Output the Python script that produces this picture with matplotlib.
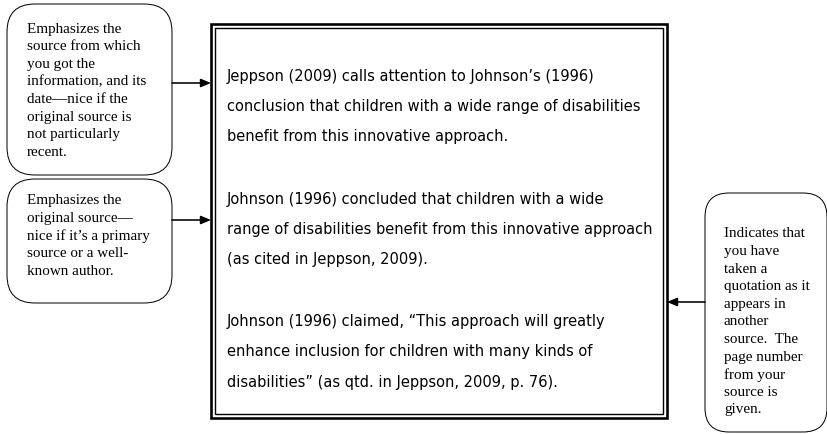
import matplotlib
matplotlib.use("Agg")
import matplotlib.pyplot as plt
from matplotlib.patches import FancyBboxPatch, Rectangle

# ---- content ----
main_lines = [
    "Jeppson (2009) calls attention to Johnson\u2019s (1996)",
    "conclusion that children with a wide range of disabilities",
    "benefit from this innovative approach.",
    "Johnson (1996) concluded that children with a wide",
    "range of disabilities benefit from this innovative approach",
    "(as cited in Jeppson, 2009).",
    "Johnson (1996) claimed, \u201cThis approach will greatly",
    "enhance inclusion for children with many kinds of",
    "disabilities\u201d (as qtd. in Jeppson, 2009, p. 76).",
]
note1_lines = [
    "Emphasizes the", "source from which", "you got the",
    "information, and its", "date\u2014nice if the", "original source is",
    "not particularly", "recent.",
]
note2_lines = [
    "Emphasizes the", "original source\u2014", "nice if it\u2019s a primary",
    "source or a well-", "known author.",
]
note3_lines = [
    "Indicates that", "you have", "taken a", "quotation as it",
    "appears in", "another", "source.  The", "page number",
    "from your", "source is", "given.",
]

# ---- layout (pixels) ----
W, H = 828, 435
fig = plt.figure(figsize=(W / 100, H / 100), dpi=100)
ax = fig.add_axes([0, 0, 1, 1])
ax.set_xlim(0, W)
ax.set_ylim(H, 0)
ax.axis("off")

PX = 0.72  # points per pixel at dpi 100

# main double-bordered box
mx0, my0, mx1, my1 = 211, 25, 667, 419
ax.add_patch(Rectangle((mx0, my0), mx1 - mx0, my1 - my0, fill=False,
                       ec="black", lw=2.6 * PX))
ax.add_patch(Rectangle((mx0 + 4, my0 + 4), mx1 - mx0 - 8, my1 - my0 - 8,
                       fill=False, ec="black", lw=1.4 * PX))

main_y = [76, 107, 137, 200, 230, 260, 322, 352, 383]
for s, y in zip(main_lines, main_y):
    ax.text(227, y, s, fontsize=10.5, family="DejaVu Sans", va="center",
            ha="left", color="black")

def note(x0, y0, x1, y1, lines, tx, ty, r=28):
    ax.add_patch(FancyBboxPatch((x0, y0), x1 - x0, y1 - y0,
                                boxstyle=f"round,pad=0,rounding_size={r}",
                                fill=False, ec="black", lw=1.0 * PX))
    for i, s in enumerate(lines):
        ax.text(tx, ty + i * 17.6, s, fontsize=10.9,
                family="Liberation Serif", va="center", ha="left",
                color="black")

note(7, 5, 172, 176, note1_lines, 27, 29)
note(7, 180, 172, 304, note2_lines, 27, 201)
note(705, 194, 827, 433, note3_lines, 724, 234, r=24)

def arrow(x0, x1, y):
    ax.annotate("", xy=(x1, y), xytext=(x0, y),
                arrowprops=dict(arrowstyle="-|>,head_length=0.6,head_width=0.25",
                                lw=1.6 * PX, color="black",
                                shrinkA=0, shrinkB=0))

arrow(172, 211, 84)
arrow(172, 211, 221)
arrow(705, 667, 303)

fig.savefig("out.png", dpi=100)
